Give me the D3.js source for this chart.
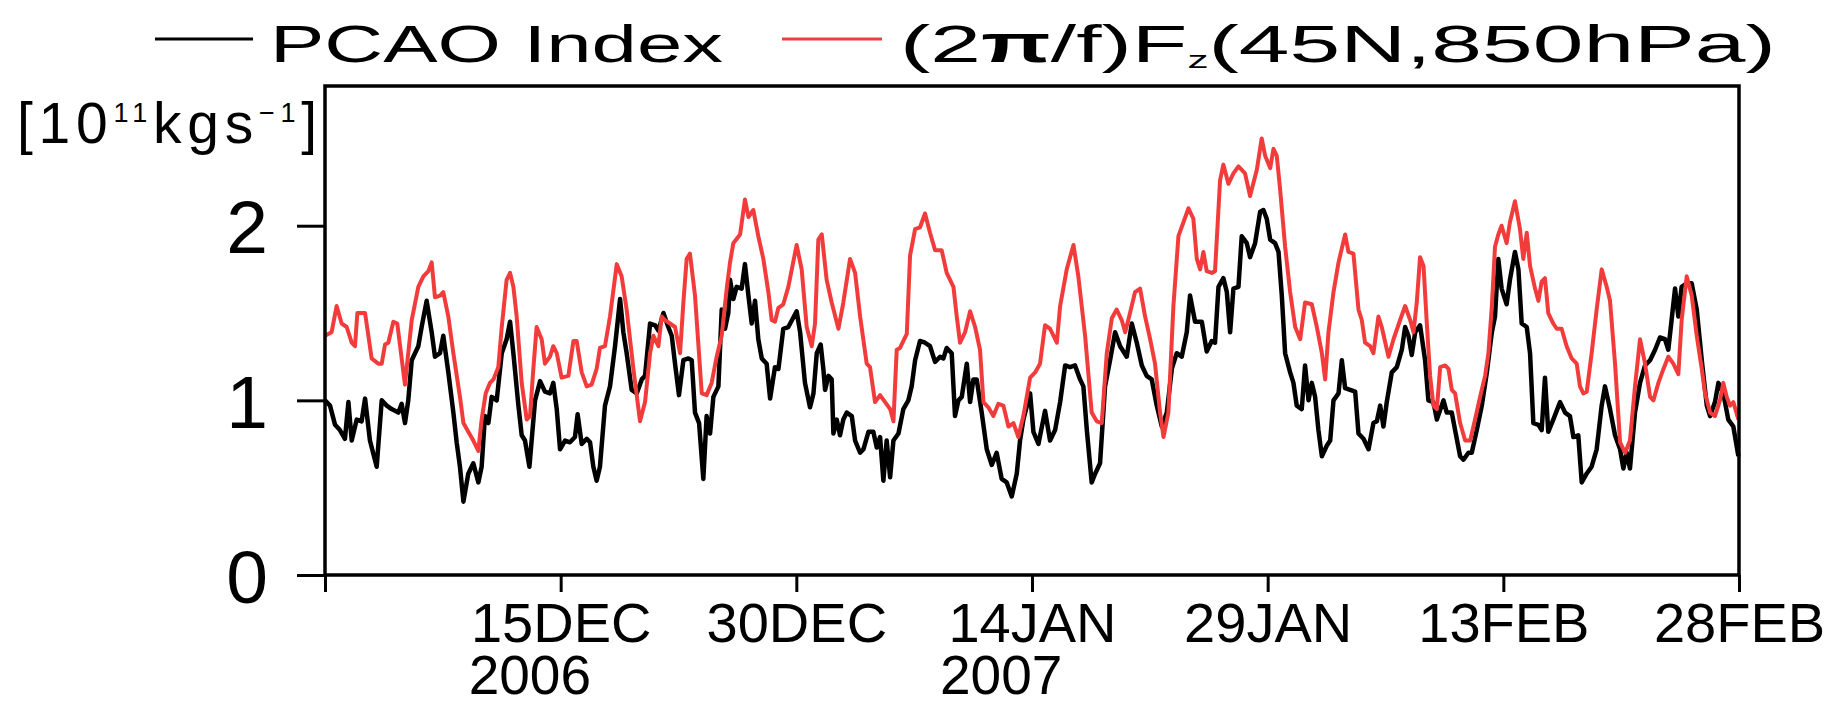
<!DOCTYPE html>
<html>
<head>
<meta charset="utf-8">
<script src="https://cdn.jsdelivr.net/npm/d3@7"></script>
<style>
  html, body { margin: 0; padding: 0; background: #fff; }
  svg { display: block; font-family: "Liberation Sans", Arial, sans-serif; }
</style>
</head>
<body>
<svg id="chart" width="1845" height="706"></svg>
<script>
/* Time axis: days counted from 30 NOV 2006 00Z */
const START_DATE = new Date(Date.UTC(2006, 10, 30));
const END_DAY = 90;
const TICK_DAYS = [0, 15, 30, 45, 60, 75, 90];
const TICK_LABELS = ["", "15DEC", "30DEC", "14JAN", "29JAN", "13FEB", "28FEB"];
const YEAR_DAYS = [15, 45];
const YEAR_LABELS = ["2006", "2007"];
const Y_TICKS = [0, 1, 2];
const Y_MAX = 2.8;

/** PCAO index, [day, value] */
const pcaoIndex = [
  [0.00,1.00],[0.32,0.97],[0.64,0.86],[0.95,0.83],[1.27,0.78],[1.49,0.99],[1.70,0.77],[2.02,0.89],
  [2.33,0.88],[2.55,1.01],[2.86,0.77],[3.29,0.62],[3.61,1.00],[3.93,0.97],[4.24,0.95],[4.67,0.93],
  [4.88,0.98],[5.09,0.87],[5.30,1.00],[5.52,1.23],[5.94,1.31],[6.15,1.42],[6.47,1.57],[6.79,1.39],
  [7.00,1.25],[7.32,1.27],[7.53,1.37],[7.85,1.16],[8.17,0.93],[8.38,0.76],[8.59,0.62],[8.81,0.42],
  [9.12,0.58],[9.44,0.64],[9.76,0.53],[9.97,0.62],[10.18,0.91],[10.40,0.87],[10.61,1.02],[10.93,1.00],
  [11.25,1.27],[11.56,1.35],[11.78,1.45],[11.99,1.27],[12.31,0.97],[12.52,0.80],[12.73,0.77],[13.01,0.62],
  [13.37,1.00],[13.69,1.11],[14.00,1.05],[14.32,1.04],[14.53,1.10],[14.75,0.95],[14.96,0.72],[15.28,0.77],
  [15.59,0.76],[15.91,0.79],[16.08,0.92],[16.34,0.75],[16.66,0.78],[16.87,0.76],[17.08,0.62],[17.29,0.54],
  [17.50,0.62],[17.82,0.97],[18.14,1.08],[18.46,1.31],[18.78,1.58],[18.99,1.39],[19.20,1.27],[19.52,1.06],
  [19.84,1.04],[20.16,1.12],[20.37,1.14],[20.69,1.44],[21.01,1.43],[21.22,1.40],[21.54,1.50],[21.85,1.42],
  [22.07,1.37],[22.28,1.21],[22.53,1.03],[22.81,1.23],[23.13,1.24],[23.34,1.23],[23.55,0.93],[23.81,0.87],
  [24.08,0.55],[24.29,0.91],[24.51,0.81],[24.72,1.02],[25.04,1.08],[25.25,1.52],[25.46,1.41],[25.67,1.50],
  [25.78,1.69],[25.99,1.58],[26.20,1.65],[26.52,1.64],[26.73,1.78],[26.95,1.60],[27.16,1.44],[27.37,1.57],
  [27.58,1.35],[27.80,1.24],[28.11,1.21],[28.33,1.01],[28.64,1.19],[28.86,1.18],[29.17,1.41],[29.49,1.42],
  [30.02,1.51],[30.24,1.39],[30.55,1.10],[30.87,0.96],[31.09,1.04],[31.30,1.27],[31.55,1.32],[31.72,1.18],
  [31.83,1.06],[32.04,1.14],[32.25,1.12],[32.36,0.81],[32.57,0.89],[32.78,0.80],[32.99,0.89],[33.21,0.93],
  [33.53,0.91],[33.74,0.77],[34.06,0.70],[34.27,0.72],[34.59,0.82],[34.90,0.82],[35.12,0.73],[35.33,0.79],
  [35.54,0.54],[35.75,0.77],[35.97,0.56],[36.18,0.77],[36.50,0.81],[36.81,0.95],[37.13,1.00],[37.34,1.08],
  [37.56,1.23],[37.87,1.34],[38.19,1.33],[38.51,1.31],[38.83,1.22],[39.15,1.25],[39.36,1.24],[39.57,1.30],
  [39.89,1.27],[40.10,0.91],[40.32,1.00],[40.53,1.02],[40.85,1.21],[41.06,0.99],[41.27,1.12],[41.48,1.12],
  [41.80,0.93],[42.12,0.72],[42.44,0.63],[42.75,0.70],[43.07,0.55],[43.39,0.53],[43.71,0.45],[44.03,0.58],
  [44.24,0.77],[44.45,0.89],[44.88,1.04],[45.09,0.82],[45.41,0.75],[45.83,0.94],[46.15,0.77],[46.47,0.83],
  [46.79,0.99],[47.11,1.20],[47.42,1.19],[47.74,1.20],[48.06,1.12],[48.27,1.08],[48.49,0.83],[48.80,0.53],
  [49.02,0.58],[49.33,0.64],[49.65,1.08],[49.97,1.23],[50.29,1.39],[50.61,1.31],[51.03,1.25],[51.35,1.44],
  [51.67,1.33],[51.99,1.20],[52.30,1.14],[52.62,1.12],[52.94,0.97],[53.26,0.85],[53.58,0.93],[53.90,1.18],
  [54.21,1.27],[54.53,1.25],[54.85,1.39],[55.06,1.60],[55.38,1.45],[55.81,1.45],[56.12,1.28],[56.44,1.34],
  [56.65,1.33],[56.87,1.65],[57.18,1.70],[57.40,1.62],[57.61,1.39],[57.82,1.64],[58.14,1.65],[58.35,1.94],
  [58.67,1.90],[58.88,1.82],[59.20,1.90],[59.52,2.08],[59.73,2.09],[59.94,2.04],[60.16,1.92],[60.47,1.90],
  [60.69,1.85],[60.90,1.60],[61.11,1.27],[61.43,1.16],[61.64,1.10],[61.85,0.97],[62.17,0.95],[62.38,1.20],
  [62.60,1.00],[62.81,1.10],[63.02,1.02],[63.23,0.83],[63.45,0.68],[63.76,0.74],[63.98,0.77],[64.19,1.00],
  [64.51,1.04],[64.72,1.23],[64.93,1.07],[65.25,1.06],[65.57,1.05],[65.78,0.81],[66.10,0.78],[66.42,0.72],
  [66.73,0.87],[66.95,0.88],[67.16,0.97],[67.37,0.85],[67.58,0.99],[67.90,1.16],[68.22,1.19],[68.54,1.29],
  [68.75,1.42],[68.96,1.37],[69.17,1.26],[69.39,1.39],[69.70,1.43],[70.02,1.23],[70.23,1.00],[70.55,0.99],
  [70.77,0.89],[71.19,1.00],[71.40,0.93],[71.72,0.93],[71.93,0.83],[72.25,0.68],[72.46,0.66],[72.78,0.70],
  [72.99,0.70],[73.31,0.83],[73.63,0.97],[73.95,1.16],[74.27,1.39],[74.47,1.48],[74.68,1.81],[74.89,1.64],
  [75.21,1.55],[75.42,1.69],[75.74,1.85],[75.96,1.75],[76.17,1.44],[76.49,1.42],[76.70,1.27],[76.91,0.87],
  [77.23,0.86],[77.44,0.83],[77.65,1.13],[77.86,0.82],[78.18,0.89],[78.61,0.99],[78.93,0.93],[79.24,0.91],
  [79.46,0.79],[79.77,0.80],[79.99,0.53],[80.30,0.58],[80.62,0.62],[80.94,0.72],[81.26,0.97],[81.47,1.08],
  [81.79,0.95],[82.11,0.80],[82.43,0.72],[82.64,0.61],[82.85,0.70],[83.06,0.61],[83.38,0.93],[83.70,1.10],
  [84.02,1.20],[84.34,1.23],[84.66,1.29],[84.97,1.36],[85.29,1.35],[85.50,1.29],[85.71,1.46],[85.93,1.64],
  [86.14,1.48],[86.35,1.65],[86.67,1.67],[86.99,1.67],[87.31,1.52],[87.63,1.23],[87.95,0.97],[88.16,0.91],
  [88.47,0.99],[88.69,1.10],[89.00,1.04],[89.32,0.89],[89.64,0.85],[89.96,0.68]
];

/** (2pi/f)Fz at 45N, 850hPa, [day, value] */
const fzFlux = [
  [0.00,1.37],[0.42,1.39],[0.74,1.54],[1.06,1.44],[1.38,1.42],[1.70,1.33],[1.91,1.31],[2.06,1.50],
  [2.55,1.50],[2.97,1.24],[3.39,1.21],[3.61,1.21],[3.82,1.32],[4.03,1.33],[4.35,1.45],[4.60,1.44],
  [5.09,1.09],[5.52,1.46],[5.94,1.65],[6.26,1.71],[6.58,1.74],[6.79,1.79],[7.00,1.59],[7.32,1.60],
  [7.53,1.62],[7.85,1.48],[8.17,1.27],[8.59,1.02],[8.81,0.87],[9.12,0.82],[9.44,0.77],[9.76,0.71],
  [9.97,0.89],[10.23,1.04],[10.50,1.10],[10.72,1.12],[11.03,1.19],[11.25,1.42],[11.56,1.69],[11.78,1.73],
  [11.99,1.65],[12.20,1.48],[12.52,1.10],[12.84,0.89],[13.05,0.91],[13.26,1.18],[13.47,1.42],[13.79,1.35],
  [14.00,1.21],[14.32,1.25],[14.53,1.31],[14.75,1.27],[15.06,1.13],[15.49,1.14],[15.81,1.34],[16.02,1.34],
  [16.34,1.16],[16.66,1.08],[16.97,1.09],[17.29,1.18],[17.50,1.30],[17.82,1.31],[18.14,1.48],[18.57,1.78],
  [18.88,1.71],[19.20,1.52],[19.63,1.18],[20.05,0.88],[20.37,0.99],[20.69,1.27],[20.90,1.37],[21.22,1.31],
  [21.43,1.48],[21.64,1.46],[21.96,1.44],[22.28,1.42],[22.60,1.27],[22.81,1.56],[23.02,1.81],[23.23,1.84],
  [23.55,1.60],[23.98,1.04],[24.29,1.03],[24.61,1.10],[24.93,1.25],[25.25,1.37],[25.57,1.64],[25.78,1.79],
  [25.99,1.90],[26.42,1.95],[26.73,2.15],[26.95,2.05],[27.26,2.09],[27.58,1.94],[27.90,1.81],[28.22,1.62],
  [28.43,1.46],[28.64,1.45],[28.86,1.53],[29.17,1.55],[29.49,1.65],[30.02,1.89],[30.34,1.75],[30.66,1.42],
  [30.98,1.31],[31.19,1.44],[31.40,1.92],[31.62,1.95],[31.93,1.69],[32.25,1.56],[32.68,1.41],[32.99,1.56],
  [33.42,1.81],[33.74,1.73],[34.06,1.48],[34.48,1.21],[34.69,1.19],[35.01,0.99],[35.33,1.03],[35.65,0.99],
  [35.97,0.95],[36.18,0.88],[36.39,1.29],[36.60,1.30],[37.03,1.38],[37.24,1.83],[37.56,1.98],[37.87,1.99],
  [38.19,2.07],[38.51,1.96],[38.83,1.86],[39.25,1.86],[39.57,1.73],[40.00,1.65],[40.21,1.48],[40.42,1.33],
  [40.74,1.39],[41.06,1.51],[41.38,1.42],[41.69,1.29],[41.91,0.99],[42.22,0.96],[42.54,0.91],[42.86,0.98],
  [43.18,0.97],[43.50,0.85],[43.82,0.87],[44.13,0.79],[44.45,0.91],[44.88,1.13],[45.20,1.16],[45.51,1.21],
  [45.83,1.43],[46.15,1.41],[46.58,1.33],[46.79,1.54],[47.21,1.75],[47.64,1.89],[47.95,1.71],[48.38,1.37],
  [48.80,0.93],[49.12,0.88],[49.44,0.87],[49.76,1.27],[50.08,1.47],[50.39,1.52],[50.71,1.46],[50.93,1.39],
  [51.24,1.50],[51.56,1.62],[51.88,1.64],[52.20,1.48],[52.52,1.35],[52.83,1.21],[53.15,0.93],[53.37,0.79],
  [53.68,0.93],[54.00,1.54],[54.32,1.94],[54.64,2.02],[54.96,2.10],[55.27,2.04],[55.49,1.81],[55.70,1.75],
  [55.91,1.85],[56.12,1.74],[56.44,1.73],[56.65,1.74],[56.97,2.26],[57.18,2.35],[57.50,2.24],[57.82,2.30],
  [58.14,2.34],[58.56,2.30],[58.88,2.17],[59.31,2.32],[59.62,2.50],[59.84,2.40],[60.16,2.33],[60.37,2.44],
  [60.58,2.40],[60.79,2.21],[61.11,1.88],[61.43,1.62],[61.75,1.42],[62.07,1.35],[62.38,1.56],[62.81,1.55],
  [63.13,1.42],[63.45,1.27],[63.66,1.12],[63.87,1.39],[64.19,1.62],[64.51,1.79],[64.93,1.95],[65.14,1.85],
  [65.46,1.84],[65.78,1.52],[65.99,1.46],[66.20,1.33],[66.52,1.31],[66.73,1.27],[67.05,1.48],[67.26,1.42],
  [67.69,1.25],[68.01,1.35],[68.43,1.46],[68.75,1.54],[69.07,1.46],[69.28,1.39],[69.49,1.56],[69.70,1.82],
  [69.92,1.77],[70.13,1.44],[70.34,1.14],[70.55,0.97],[70.77,0.95],[70.98,1.19],[71.30,1.20],[71.51,1.18],
  [71.72,1.06],[71.93,1.04],[72.25,0.87],[72.57,0.77],[72.89,0.77],[73.20,0.89],[73.52,1.02],[73.84,1.14],
  [74.05,1.27],[74.27,1.54],[74.47,1.88],[74.68,1.95],[74.89,2.00],[75.21,1.90],[75.42,2.02],[75.74,2.14],
  [76.06,1.98],[76.27,1.81],[76.49,1.96],[76.70,1.77],[77.02,1.64],[77.23,1.57],[77.44,1.68],[77.65,1.70],
  [77.86,1.50],[78.18,1.44],[78.40,1.41],[78.71,1.41],[79.03,1.31],[79.35,1.24],[79.67,1.21],[79.88,1.08],
  [80.09,1.04],[80.31,1.05],[80.62,1.27],[80.94,1.52],[81.26,1.75],[81.58,1.65],[81.79,1.57],[82.11,1.21],
  [82.43,0.76],[82.75,0.70],[83.06,0.77],[83.38,1.08],[83.70,1.35],[84.02,1.21],[84.34,1.02],[84.55,1.00],
  [84.87,1.10],[85.19,1.18],[85.50,1.25],[85.82,1.21],[86.14,1.15],[86.35,1.46],[86.67,1.71],[86.99,1.60],
  [87.31,1.37],[87.63,1.18],[87.84,1.04],[88.16,0.93],[88.47,0.91],[88.79,1.00],[89.00,1.10],[89.22,1.02],
  [89.43,0.97],[89.64,0.99],[89.96,0.89]
];

const RED = "#f23c3c";
const svg = d3.select("#chart");
const plot = { left: 325, right: 1739, top: 86, bottom: 575 };

const toDate = d => new Date(START_DATE.getTime() + d * 864e5);

const x = d3
  .scaleUtc()
  .domain([START_DATE, toDate(END_DAY)])
  .range([plot.left, plot.right]);

const y = d3
  .scaleLinear()
  .domain([0, Y_MAX])
  .range([plot.bottom, plot.top]);

svg
  .append("rect")
  .attr("width", 1845)
  .attr("height", 706)
  .attr("fill", "#fff");

// data lines, black first so the red one sits on top
const line = d3
  .line()
  .x(d => x(toDate(d[0])))
  .y(d => y(d[1]));

svg
  .append("path")
  .datum(pcaoIndex)
  .attr("d", line)
  .attr("fill", "none")
  .attr("stroke", "#000")
  .attr("stroke-width", 4.5)
  .attr("stroke-linejoin", "round");

svg
  .append("path")
  .datum(fzFlux)
  .attr("d", line)
  .attr("fill", "none")
  .attr("stroke", RED)
  .attr("stroke-width", 4)
  .attr("stroke-linejoin", "round");

// frame
svg
  .append("rect")
  .attr("x", plot.left)
  .attr("y", plot.top)
  .attr("width", plot.right - plot.left)
  .attr("height", plot.bottom - plot.top)
  .attr("fill", "none")
  .attr("stroke", "#000")
  .attr("stroke-width", 3.5);

/** Strip d3 axis defaults so our own fonts apply. */
function styleAxis(g, size) {
  g.attr("font-family", null).attr("font-size", null);
  g.select(".domain").remove();
  g.selectAll(".tick line").attr("stroke", "#000").attr("stroke-width", 3);
  g.selectAll(".tick text").attr("fill", "#000").attr("font-size", size);
}

svg
  .append("g")
  .attr("transform", `translate(0,${plot.bottom})`)
  .call(
    d3
      .axisBottom(x)
      .tickValues(TICK_DAYS.map(toDate))
      .tickSize(17)
      .tickPadding(10)
      .tickFormat((d, i) => TICK_LABELS[i])
  )
  .call(g => styleAxis(g, 56));

// year under the first label of each year
svg
  .append("g")
  .selectAll("text")
  .data(YEAR_LABELS)
  .enter()
  .append("text")
  .attr("x", (d, i) => x(toDate(YEAR_DAYS[i])) - 92)
  .attr("y", plot.bottom + 119)
  .attr("font-size", 55)
  .text(d => d);

svg
  .append("g")
  .attr("transform", `translate(${plot.left},0)`)
  .call(
    d3
      .axisLeft(y)
      .tickValues(Y_TICKS)
      .tickSize(28)
      .tickPadding(29)
      .tickFormat(d3.format("d"))
  )
  .call(g => styleAxis(g, 75))
  .call(g => g.selectAll(".tick text").attr("dy", "0.36em"));

// unit label, spread out with letter spacing
const unit = svg
  .append("text")
  .attr("x", 17)
  .attr("y", 143)
  .attr("font-size", 57);
unit.append("tspan").text("[10");
unit.append("tspan").attr("font-size", 27).attr("dy", -21).text("11");
unit.append("tspan").attr("dy", 21).text("kgs");
unit.append("tspan").attr("font-size", 27).attr("dy", -21).text("\u22121");
unit.append("tspan").attr("dy", 21).text("]");
{
  const w = unit.node().getBBox().width;
  unit.attr("letter-spacing", Math.max(0, (300 - w) / 10));
}

/** Stretch a text horizontally so it spans [x0, x0 + width]. */
function fitText(sel, x0, width) {
  const box = sel.node().getBBox();
  const k = width / box.width;
  sel.attr("transform", `translate(${x0},0) scale(${k},1) translate(${-box.x},0)`);
}

// legend
svg
  .append("line")
  .attr("x1", 155)
  .attr("x2", 253)
  .attr("y1", 39)
  .attr("y2", 39)
  .attr("stroke", "#000")
  .attr("stroke-width", 3);

const leg1 = svg
  .append("text")
  .attr("y", 62)
  .attr("font-size", 52)
  .text("PCAO Index");
fitText(leg1, 270, 453);

svg
  .append("line")
  .attr("x1", 782)
  .attr("x2", 882)
  .attr("y1", 39)
  .attr("y2", 39)
  .attr("stroke", RED)
  .attr("stroke-width", 3);

const leg2 = svg
  .append("text")
  .attr("y", 62)
  .attr("font-size", 52);
leg2.append("tspan").text("(2");
leg2.append("tspan").attr("font-weight", "bold").text("\u03c0");
leg2.append("tspan").text("/f)F");
leg2.append("tspan").attr("font-size", 24).attr("dy", 6).text("z");
leg2.append("tspan").attr("dy", -6).text("(45N,850hPa)");
fitText(leg2, 900, 876);
</script>
</body>
</html>
